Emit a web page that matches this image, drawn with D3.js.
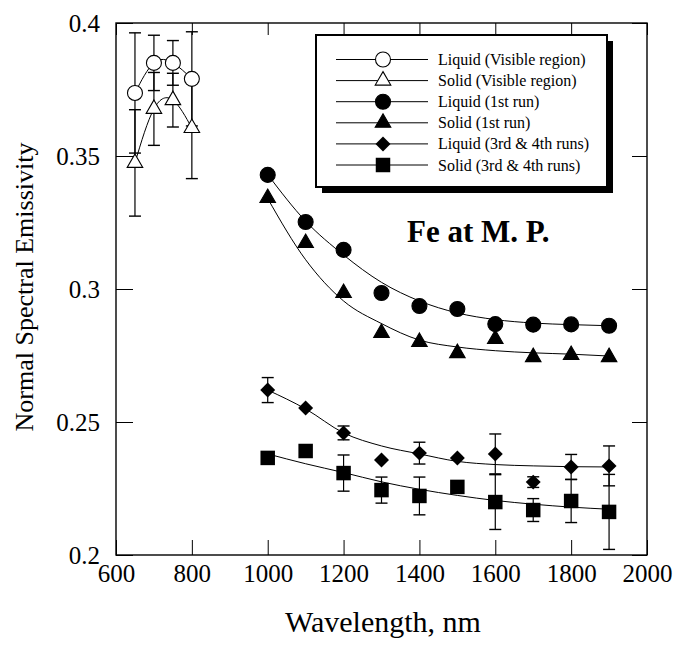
<!DOCTYPE html>
<html>
<head>
<meta charset="utf-8">
<script src="https://cdn.jsdelivr.net/npm/d3@7"></script>
<style>
  html, body { margin: 0; padding: 0; background: #fff; }
  svg { display: block; }
  text { font-family: "Liberation Serif", "Times New Roman", serif; fill: #000; }
</style>
</head>
<body>
<svg id="chart" width="676" height="648"></svg>
<script>
// Wavelengths (nm)
const visWavelengths = [650, 700, 750, 800];
const irWavelengths = [1000, 1100, 1200, 1300, 1400, 1500, 1600, 1700, 1800, 1900];

// Visible region measurements
const liquidVis = [0.3737, 0.3850, 0.3850, 0.3790];
const liquidVisErr = [0.0226, 0.0104, 0.0084, 0.0177];
const solidVis = [0.3474, 0.3677, 0.3710, 0.3605];
const solidVisErr = [0.0200, 0.0137, 0.0101, 0.0190];

// 1st run
const liquid1 = [0.3429, 0.3252, 0.3147, 0.2985, 0.2936, 0.2925, 0.2868, 0.2866, 0.2867, 0.2862];
const solid1 = [0.3342, 0.3173, 0.2985, 0.2835, 0.2801, 0.2759, 0.2812, 0.2744, 0.2752, 0.2744];

// 3rd & 4th runs (null = no error bar)
const liquid34 = [0.2620, 0.2553, 0.2459, 0.2357, 0.2383, 0.2365, 0.2380, 0.2274, 0.2331, 0.2335];
const liquid34Err = [0.0047, null, 0.0026, null, 0.0041, null, 0.0075, 0.0020, 0.0047, 0.0075];
const solid34 = [0.2365, 0.2391, 0.2308, 0.2244, 0.2222, 0.2256, 0.2199, 0.2169, 0.2203, 0.2162];
const solid34Err = [null, null, 0.0068, 0.0049, 0.0071, null, 0.0103, 0.0043, 0.0081, 0.0141];

// Fitted curves
const liquid1Fit = [0.3430, 0.3255, 0.3128, 0.3025, 0.2955, 0.2910, 0.2885, 0.2872, 0.2866, 0.2862];
const solid1Fit = [0.3340, 0.3110, 0.2955, 0.2870, 0.2808, 0.2782, 0.2768, 0.2760, 0.2755, 0.2748];
const liquid34Fit = [0.2620, 0.2549, 0.2459, 0.2410, 0.2380, 0.2352, 0.2340, 0.2335, 0.2332, 0.2331];
const solid34Fit = [0.2380, 0.2343, 0.2310, 0.2275, 0.2247, 0.2224, 0.2205, 0.2191, 0.2180, 0.2172];

// Axis ticks
const xTicks = [600, 800, 1000, 1200, 1400, 1600, 1800, 2000];
const yTicks = [0.2, 0.25, 0.3, 0.35, 0.4];
const yTickLabels = ["0.2", "0.25", "0.3", "0.35", "0.4"];

const legendLabels = [
  "Liquid (Visible region)",
  "Solid (Visible region)",
  "Liquid (1st run)",
  "Solid (1st run)",
  "Liquid (3rd & 4th runs)",
  "Solid (3rd & 4th runs)"
];
const legendSymbols = ["circleOpen", "triangleOpen", "circle", "triangle", "diamond", "square"];

const svg = d3.select("#chart");
const plotLeft = 116, plotRight = 647, plotTop = 23, plotBottom = 555;

const x = d3.scaleLinear().domain([600, 2000]).range([plotLeft, plotRight]);
const y = d3.scaleLinear().domain([0.2, 0.4]).range([plotBottom, plotTop]);

// Marker shapes
function marker(g, kind, cx, cy) {
  const t = `translate(${cx},${cy})`;
  if (kind === "circleOpen" || kind === "circle") {
    g.append("circle").attr("cx", cx).attr("cy", cy).attr("r", 7.5)
      .attr("fill", kind === "circle" ? "#000" : "#fff")
      .attr("stroke", "#000").attr("stroke-width", 1.1);
  } else if (kind === "triangleOpen" || kind === "triangle") {
    g.append("path").attr("d", d3.symbol(d3.symbolTriangle, 105)())
      .attr("transform", t)
      .attr("fill", kind === "triangle" ? "#000" : "#fff")
      .attr("stroke", "#000").attr("stroke-width", 1.1);
  } else if (kind === "diamond") {
    g.append("path").attr("d", d3.symbol(d3.symbolSquare, 112)())
      .attr("transform", t + " rotate(45)")
      .attr("fill", "#000");
  } else if (kind === "square") {
    g.append("path").attr("d", d3.symbol(d3.symbolSquare, 210)())
      .attr("transform", t)
      .attr("fill", "#000");
  }
}

// Axes (ticks pointing inward, frame drawn separately)
const gx = svg.append("g").attr("transform", `translate(0,${plotBottom})`)
  .call(d3.axisBottom(x).tickValues(xTicks).tickSize(-15).tickSizeOuter(0).tickPadding(9)
    .tickFormat(d3.format("d")));
const gxTop = svg.append("g").attr("transform", `translate(0,${plotTop})`)
  .call(d3.axisTop(x).tickValues(xTicks).tickSize(-12).tickSizeOuter(0).tickFormat(""));
const gy = svg.append("g").attr("transform", `translate(${plotLeft},0)`)
  .call(d3.axisLeft(y).tickValues(yTicks).tickSize(-17).tickSizeOuter(0).tickPadding(16)
    .tickFormat((d, i) => yTickLabels[i]));
const gyRight = svg.append("g").attr("transform", `translate(${plotRight},0)`)
  .call(d3.axisRight(y).tickValues(yTicks).tickSize(-15).tickSizeOuter(0).tickFormat(""));

[gx, gxTop, gy, gyRight].forEach(g => {
  g.select(".domain").remove();
  g.selectAll(".tick line").attr("stroke", "#000").attr("stroke-width", 1);
  g.selectAll(".tick text").attr("font-family", "Liberation Serif, Times New Roman, serif")
    .attr("font-size", 25).attr("fill", "#000");
});

svg.append("rect").attr("x", plotLeft).attr("y", plotTop)
  .attr("width", plotRight - plotLeft).attr("height", plotBottom - plotTop)
  .attr("fill", "none").attr("stroke", "#000").attr("stroke-width", 1.4);

// Axis titles
svg.append("text")
  .attr("x", 383).attr("y", 632)
  .attr("text-anchor", "middle").attr("font-size", 30)
  .text("Wavelength, nm");
svg.append("text")
  .attr("transform", "translate(33,287) rotate(-90)")
  .attr("text-anchor", "middle").attr("font-size", 26)
  .text("Normal Spectral Emissivity");

// Lines
const lineNatural = d3.line().x(d => x(d[0])).y(d => y(d[1])).curve(d3.curveNatural);
const lineFit = d3.line().x(d => x(d[0])).y(d => y(d[1])).curve(d3.curveMonotoneX);
const plot = svg.append("g");

function drawLine(xs, ys, gen) {
  plot.append("path").datum(xs.map((w, i) => [w, ys[i]]))
    .attr("d", gen).attr("fill", "none").attr("stroke", "#000").attr("stroke-width", 1);
}
drawLine(visWavelengths, liquidVis, lineNatural);
drawLine(visWavelengths, solidVis, lineNatural);
drawLine(irWavelengths, liquid1Fit, lineFit);
drawLine(irWavelengths, solid1Fit, lineFit);
drawLine(irWavelengths, liquid34Fit, lineFit);
drawLine(irWavelengths, solid34Fit, lineFit);

// Error bars
function drawErr(xs, ys, errs) {
  xs.forEach((w, i) => {
    const e = errs[i];
    if (e == null) return;
    const cx = x(w), y1 = y(ys[i] + e), y2 = y(ys[i] - e);
    plot.append("line").attr("x1", cx).attr("x2", cx).attr("y1", y1).attr("y2", y2)
      .attr("stroke", "#000").attr("stroke-width", 1.2);
    [y1, y2].forEach(yy => plot.append("line")
      .attr("x1", cx - 6).attr("x2", cx + 6).attr("y1", yy).attr("y2", yy)
      .attr("stroke", "#000").attr("stroke-width", 1.4));
  });
}
drawErr(visWavelengths, liquidVis, liquidVisErr);
drawErr(visWavelengths, solidVis, solidVisErr);
drawErr(irWavelengths, liquid34, liquid34Err);
drawErr(irWavelengths, solid34, solid34Err);

// Markers
function drawMarkers(xs, ys, kind) {
  xs.forEach((w, i) => marker(plot, kind, x(w), y(ys[i])));
}
drawMarkers(visWavelengths, liquidVis, "circleOpen");
drawMarkers(visWavelengths, solidVis, "triangleOpen");
drawMarkers(irWavelengths, liquid1, "circle");
drawMarkers(irWavelengths, solid1, "triangle");
drawMarkers(irWavelengths, liquid34, "diamond");
drawMarkers(irWavelengths, solid34, "square");

// Legend box with drop shadow
const lg = svg.append("g");
const lx = 316, ly = 35, lw = 291, lh = 152;
lg.append("rect").attr("x", lx + 6).attr("y", ly + 6).attr("width", lw).attr("height", lh).attr("fill", "#000");
lg.append("rect").attr("x", lx).attr("y", ly).attr("width", lw).attr("height", lh)
  .attr("fill", "#fff").attr("stroke", "#000").attr("stroke-width", 2);
legendLabels.forEach((lab, i) => {
  const ry = 59.5 + i * 21.1;
  lg.append("line").attr("x1", 336).attr("x2", 428).attr("y1", ry).attr("y2", ry)
    .attr("stroke", "#000").attr("stroke-width", 1);
  marker(lg, legendSymbols[i], 383, ry);
  lg.append("text").attr("x", 438).attr("y", ry + 5.5).attr("font-size", 16).text(lab);
});

// Annotation
svg.append("text").attr("x", 407).attr("y", 242)
  .attr("font-size", 31).attr("font-weight", "bold")
  .text("Fe at M. P.");
</script>
</body>
</html>
